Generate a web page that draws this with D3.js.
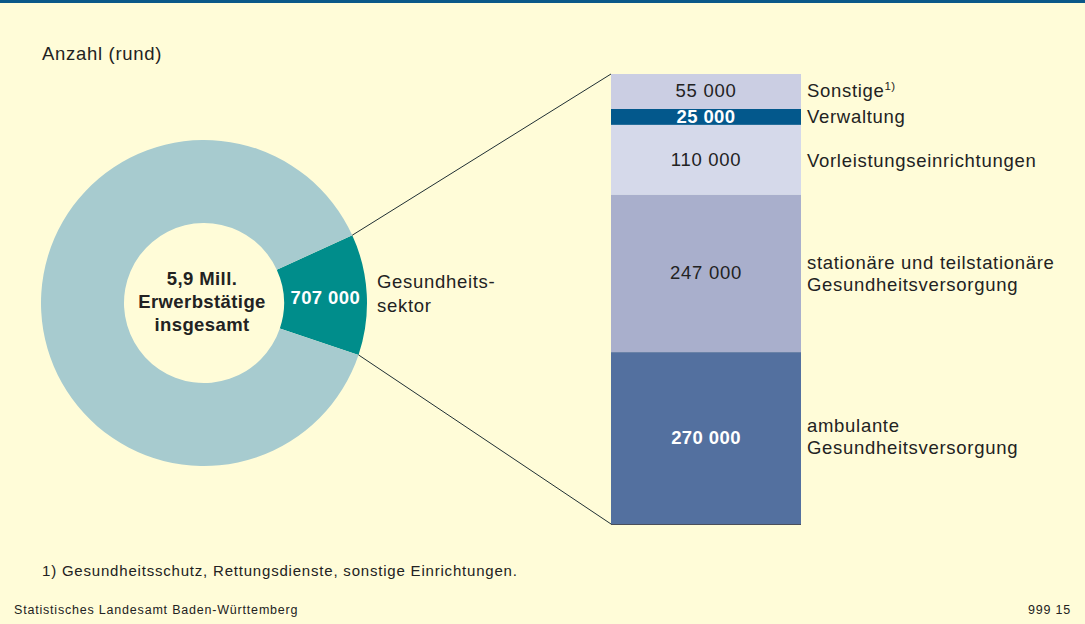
<!DOCTYPE html>
<html>
<head>
<meta charset="utf-8">
<script src="https://cdn.jsdelivr.net/npm/d3@7"></script>
<style>
  body { margin: 0; background: #fffcd8; }
  svg { display: block; font-family: "Liberation Sans", Arial, sans-serif; }
  .lbl { font-size: 18.5px; letter-spacing: 0.7px; fill: #222; }
  .lbl-b { font-size: 18.5px; letter-spacing: 0.4px; font-weight: bold; }
</style>
</head>
<body>
<svg id="chart" width="1085" height="624"></svg>
<script>
// Erwerbstätige insgesamt vs. Gesundheitssektor
const totalLabel = ["5,9 Mill.", "Erwerbstätige", "insgesamt"];
const donutNames = ["Gesundheitssektor", "Übrige"];
const donutValues = [707000, 5900000 - 707000];

// Aufteilung Gesundheitssektor (von oben nach unten)
const segNames = [
  ["Sonstige"],
  ["Verwaltung"],
  ["Vorleistungseinrichtungen"],
  ["stationäre und teilstationäre", "Gesundheitsversorgung"],
  ["ambulante", "Gesundheitsversorgung"],
];
const segValues = [55000, 25000, 110000, 247000, 270000];
const segColors = ["#cbcee3", "#03588c", "#d5d9ea", "#a9afcc", "#53709f"];
const segTextColors = ["#222", "#fff", "#222", "#222", "#fff"];
const segBold = [false, true, false, false, true];

const fmt = (v) => d3.format(",")(v).replace(/,/g, " ");

const svg = d3.select("#chart");

svg.append("rect").attr("width", 1085).attr("height", 624).attr("fill", "#fffcd8");
svg.append("rect").attr("width", 1085).attr("height", 3).attr("fill", "#0b5888");

svg.append("text")
  .attr("class", "lbl")
  .attr("x", 42).attr("y", 60)
  .text("Anzahl (rund)");

// Donut
const cx = 204, cy = 303, rOuter = 163, rInner = 80;
const sliceDeg = (donutValues[0] / d3.sum(donutValues)) * 360;
const startDeg = 87 - sliceDeg / 2;

const pie = d3.pie().sort(null)
  .startAngle(startDeg * Math.PI / 180)
  .endAngle((startDeg + 360) * Math.PI / 180)
  .value((d) => d);
const arcs = pie(donutValues);
const arc = d3.arc().innerRadius(rInner).outerRadius(rOuter);

const gDonut = svg.append("g").attr("transform", `translate(${cx},${cy})`);
gDonut.selectAll("path")
  .data(arcs)
  .enter()
  .append("path")
  .attr("d", arc)
  .attr("fill", (d, i) => (i === 0 ? "#008d8b" : "#a7cbcf"));

gDonut.selectAll(".center-label")
  .data(totalLabel)
  .enter()
  .append("text")
  .attr("class", "center-label lbl-b")
  .attr("x", -2)
  .attr("y", (d, i) => -18 + i * 23)
  .attr("text-anchor", "middle")
  .style("fill", "#222")
  .text((d) => d);

const mid = arc.centroid(arcs[0]);
gDonut.append("text")
  .attr("class", "lbl-b")
  .attr("x", mid[0])
  .attr("y", mid[1] + 7)
  .attr("text-anchor", "middle")
  .style("fill", "#fff")
  .text(fmt(donutValues[0]));

svg.append("text")
  .attr("class", "lbl")
  .attr("x", 377).attr("y", 288)
  .selectAll("tspan")
  .data(["Gesundheits-", "sektor"])
  .enter()
  .append("tspan")
  .attr("x", 377)
  .attr("dy", (d, i) => (i === 0 ? 0 : 24))
  .text((d) => d);

// Stacked bar
const barX = 611, barW = 190, barTop = 74, barBottom = 524;
const yScale = d3.scaleLinear()
  .domain([0, d3.sum(segValues)])
  .range([barTop, barBottom]);

const cum = [];
segValues.reduce((acc, v, i) => {
  cum.push([acc, acc + v]);
  return acc + v;
}, 0);

const segData = segValues.map((v, i) => ({
  value: v, y0: cum[i][0], y1: cum[i][1], names: segNames[i],
  color: segColors[i], textColor: segTextColors[i], bold: segBold[i],
}));

// connector lines from the teal slice to the bar
const a0 = arcs[0].startAngle, a1 = arcs[0].endAngle;
const pTop = [cx + rOuter * Math.sin(a0), cy - rOuter * Math.cos(a0)];
const pBot = [cx + rOuter * Math.sin(a1), cy - rOuter * Math.cos(a1)];
svg.append("line")
  .attr("x1", pTop[0]).attr("y1", pTop[1])
  .attr("x2", barX).attr("y2", yScale(0))
  .attr("stroke", "#1f2f33").attr("stroke-width", 1);
svg.append("line")
  .attr("x1", pBot[0]).attr("y1", pBot[1])
  .attr("x2", barX).attr("y2", yScale(d3.sum(segValues)))
  .attr("stroke", "#1f2f33").attr("stroke-width", 1);

const gBar = svg.append("g");
gBar.selectAll("rect")
  .data(segData)
  .enter()
  .append("rect")
  .attr("x", barX)
  .attr("y", (d) => yScale(d.y0))
  .attr("width", barW)
  .attr("height", (d) => yScale(d.y1) - yScale(d.y0))
  .attr("fill", (d) => d.color);

gBar.append("line")
  .attr("x1", barX).attr("x2", barX + barW)
  .attr("y1", yScale(d3.sum(segValues)) + 0.5)
  .attr("y2", yScale(d3.sum(segValues)) + 0.5)
  .attr("stroke", "#4a4f5a").attr("stroke-width", 1);

// value labels inside the bar
const valueY = [97, 123, 166, 279, 444];
gBar.selectAll(".val")
  .data(segData)
  .enter()
  .append("text")
  .attr("class", (d) => (d.bold ? "val lbl-b" : "val lbl"))
  .attr("x", barX + barW / 2)
  .attr("y", (d, i) => valueY[i])
  .attr("text-anchor", "middle")
  .style("fill", (d) => d.textColor)
  .text((d) => fmt(d.value));

// category labels to the right
const nameY = [97, 123, 167, 269, 432];
const labels = gBar.selectAll(".name")
  .data(segData)
  .enter()
  .append("text")
  .attr("class", "name lbl")
  .attr("y", (d, i) => nameY[i]);

labels.selectAll("tspan")
  .data((d) => d.names)
  .enter()
  .append("tspan")
  .attr("x", 807)
  .attr("dy", (d, i) => (i === 0 ? 0 : 22))
  .text((d) => d);

labels.filter((d, i) => i === 0)
  .append("tspan")
  .attr("dy", -7)
  .style("font-size", "11.5px")
  .style("letter-spacing", "0.2px")
  .text("1)");

// footnote + source
svg.append("text")
  .attr("x", 42).attr("y", 576)
  .style("font-size", "15px").style("letter-spacing", "0.8px").style("fill", "#222")
  .text("1) Gesundheitsschutz, Rettungsdienste, sonstige Einrichtungen.");

svg.append("text")
  .attr("x", 14).attr("y", 614)
  .style("font-size", "12.5px").style("letter-spacing", "0.8px").style("fill", "#222")
  .text("Statistisches Landesamt Baden-Württemberg");

svg.append("text")
  .attr("x", 1071).attr("y", 614)
  .attr("text-anchor", "end")
  .style("font-size", "12.5px").style("letter-spacing", "0.8px").style("fill", "#222")
  .text("999 15");
</script>
</body>
</html>
